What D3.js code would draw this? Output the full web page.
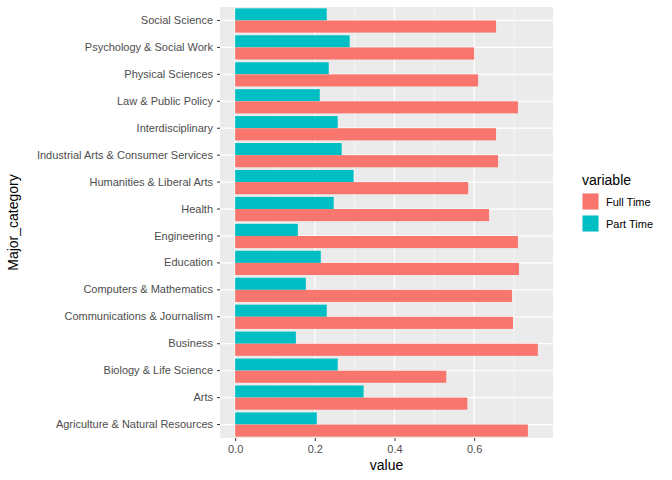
<!DOCTYPE html>
<html><head><meta charset="utf-8">
<script src="https://cdn.jsdelivr.net/npm/d3@7"></script>
<style>body{margin:0;background:#fff;font-family:"Liberation Sans",Arial,sans-serif}</style>
</head><body>
<svg id="chart" width="672" height="480"></svg>
<script>
// categories bottom-to-top as in ggplot
const categories = ["Agriculture & Natural Resources","Arts","Biology & Life Science","Business",
  "Communications & Journalism","Computers & Mathematics","Education","Engineering","Health",
  "Humanities & Liberal Arts","Industrial Arts & Consumer Services","Interdisciplinary",
  "Law & Public Policy","Physical Sciences","Psychology & Social Work","Social Science"];
const fullTime = [0.735,0.583,0.53,0.76,0.6975,0.695,0.7125,0.71,0.6375,0.585,0.66,0.655,0.71,0.61,0.60,0.655];
const partTime = [0.205,0.3225,0.2575,0.1525,0.23,0.1775,0.215,0.1575,0.2475,0.2975,0.2675,0.2575,0.2125,0.235,0.2875,0.23];
const series = ["Full Time","Part Time"];
const colors = ["#F8766D","#00BFC4"];
const xTicks = [0,0.2,0.4,0.6];

const svg = d3.select("#chart");
const pLeft = 220, pRight = 553, pTop = 7, pBottom = 438;

const x = d3.scaleLinear().domain([-0.038,0.798]).range([pLeft,pRight]);
const y = d3.scaleBand().domain(categories.slice().reverse()).range([pTop,pBottom]).paddingInner(0.1).paddingOuter(0.05);
const sub = d3.scaleBand().domain(["Part Time","Full Time"]).range([0,y.bandwidth()]);

svg.append("rect").attr("x",pLeft).attr("y",pTop).attr("width",pRight-pLeft).attr("height",pBottom-pTop).attr("fill","#EBEBEB");
// minor gridlines
[0.1,0.3,0.5,0.7].forEach(v=>svg.append("line").attr("x1",x(v)).attr("x2",x(v)).attr("y1",pTop).attr("y2",pBottom).attr("stroke","#fff").attr("stroke-width",0.6));
xTicks.forEach(v=>svg.append("line").attr("x1",x(v)).attr("x2",x(v)).attr("y1",pTop).attr("y2",pBottom).attr("stroke","#fff").attr("stroke-width",1.2));
categories.forEach(c=>svg.append("line").attr("x1",pLeft).attr("x2",pRight).attr("y1",y(c)+y.bandwidth()/2).attr("y2",y(c)+y.bandwidth()/2).attr("stroke","#fff").attr("stroke-width",1.2));

const rows = categories.map((c,i)=>({c, ft:fullTime[i], pt:partTime[i]}));
rows.forEach(r=>{
  svg.append("rect").attr("x",x(0)).attr("y",y(r.c)+sub("Part Time")).attr("width",x(r.pt)-x(0)).attr("height",sub.bandwidth()).attr("fill",colors[1]);
  svg.append("rect").attr("x",x(0)).attr("y",y(r.c)+sub("Full Time")).attr("width",x(r.ft)-x(0)).attr("height",sub.bandwidth()).attr("fill",colors[0]);
});

// axes
const xa = svg.append("g").attr("transform",`translate(0,${pBottom})`)
  .call(d3.axisBottom(x).tickValues(xTicks).tickFormat(d3.format(".1f")).tickSize(3).tickPadding(4));
const ya = svg.append("g").attr("transform",`translate(${pLeft},0)`)
  .call(d3.axisLeft(y).tickSize(3).tickPadding(4));
[xa,ya].forEach(g=>{
  g.select(".domain").remove();
  g.selectAll("line").attr("stroke","#333");
  g.selectAll("text").attr("fill","#4D4D4D").style("font-size","11px").style("font-family","Liberation Sans, Arial, sans-serif");
});

svg.append("text").attr("x",(pLeft+pRight)/2).attr("y",470).attr("text-anchor","middle").attr("font-size","14px").text("value");
svg.append("text").attr("transform",`translate(18,${(pTop+pBottom)/2}) rotate(-90)`).attr("text-anchor","middle").attr("font-size","14px").text("Major_category");

// legend
const lg = svg.append("g").attr("transform","translate(582,0)");
lg.append("text").attr("x",0).attr("y",185).attr("font-size","14px").text("variable");
series.forEach((s,i)=>{
  lg.append("rect").attr("x",0).attr("y",193+i*22).attr("width",17).attr("height",17).attr("fill","#F2F2F2");
  lg.append("rect").attr("x",0.5).attr("y",193.5+i*22).attr("width",16).attr("height",16).attr("fill",colors[i]);
  lg.append("text").attr("x",24).attr("y",205.5+i*22).attr("font-size","11px").text(s);
});
</script>
</body></html>
